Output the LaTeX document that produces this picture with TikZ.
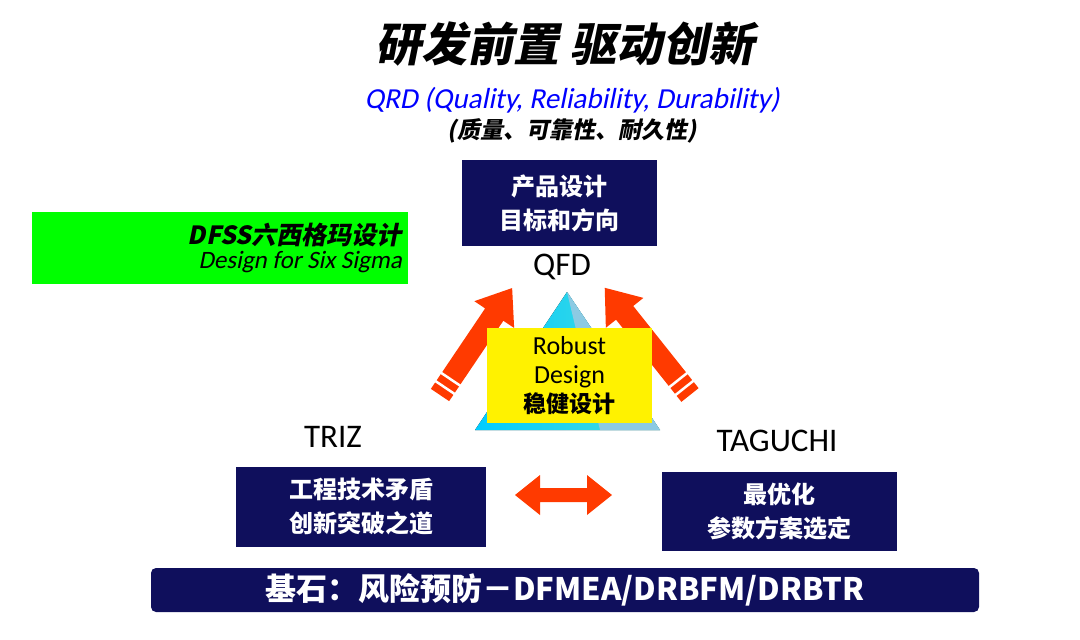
\documentclass[tikz,border=0pt]{standalone}
\usepackage{fontspec}
\setmainfont{Carlito}
\newfontfamily\cjk{Noto Sans CJK SC}
\newfontfamily\cjkit{Noto Sans CJK SC}[FakeSlant=0.2]
\newfontfamily\latit{Carlito}[FakeSlant=0.2]
\usetikzlibrary{positioning}
\definecolor{navy}{HTML}{0F0F5C}
\definecolor{arrowred}{HTML}{FF3A00}
\tikzset{
  darkbox/.style={fill=navy, text=white, align=center, font=\cjk\bfseries\fontsize{24}{34}\selectfont, inner sep=0pt},
  label/.style={font=\fontsize{33}{33}\selectfont},
}
\newcommand{\stripearrow}[3]{% tail, angle, length
  \begin{scope}[shift={#1}, rotate=#2]
    \fill[arrowred] (0,-11) -- (#3-32,-11) -- (#3-32,-24) -- (#3,0) -- (#3-32,24) -- (#3-32,11) -- (0,11) -- cycle;
    \draw[white, line width=2.5pt] (9,-12) -- (9,12) (19,-12) -- (19,12);
  \end{scope}}
\begin{document}
\begin{tikzpicture}[x=1pt, y=-1pt]
  \useasboundingbox (0,0) rectangle (1080,640);
  % titles
  \node (title) at (565,44) {\cjkit\bfseries\fontsize{46}{46}\selectfont 研发前置 驱动创新};
  \node[text=blue] (qrd) at (572,100) {\latit\fontsize{29}{29}\selectfont QRD (Quality, Reliability, Durability)};
  \node (qrdcn) at (572,131) {\cjkit\bfseries\fontsize{23}{23}\selectfont (质量、可靠性、耐久性)};
  % QFD
  \node[darkbox, minimum width=195pt, minimum height=86pt] (qfdbox) at (559.5,203) {产品设计\\目标和方向};
  \node[label] (qfd) at (562,267) {QFD};
  \node[fill=green, minimum width=376pt, minimum height=72pt, inner sep=0pt] (dfss) at (220,248) {};
  \node[anchor=east, align=right, inner sep=0pt] (dfsstxt) at (402,248) {{\cjkit\bfseries\fontsize{25}{25}\selectfont DFSS六西格玛设计}\\[4pt]{\latit\fontsize{25}{25}\selectfont Design for Six Sigma}};
  % pyramid and arrows
  \fill[left color=cyan!80!blue, right color=cyan!60!teal!70] (567,292) coordinate (apex) -- (660,430) -- (475,430) -- cycle;
  \fill[cyan!60!teal!50] (567,292) -- (660,430) -- (600,430) -- cycle;
  \stripearrow{(440,395)}{56}{129}
  \stripearrow{(690,395)}{128.5}{137}
  \node[fill=yellow, minimum width=165pt, minimum height=95pt, align=center, inner sep=0pt, font=\fontsize{26}{29}\selectfont] (robust) at (569.5,375.5) {Robust\\Design\\{\cjk\bfseries\fontsize{23}{26}\selectfont 稳健设计}};
  % TRIZ and TAGUCHI
  \node[label] (triz) at (333,437) {TRIZ};
  \node[darkbox, minimum width=250pt, minimum height=80pt] (trizbox) at (361,507) {工程技术矛盾\\创新突破之道};
  \node[label] (taguchi) at (777,441) {TAGUCHI};
  \node[darkbox, minimum width=235pt, minimum height=79pt] (tagbox) at (779.5,511.5) {最优化\\参数方案选定};
  \coordinate (dl) at (515,495);
  \coordinate (dr) at (612,495);
  \fill[arrowred] (dl) -- ++(25,-20) -- ++(0,13) -- ++(47,0) -- ++(0,-13) -- (dr) -- ++(-25,20) -- ++(0,-13) -- ++(-47,0) -- ++(0,13) -- cycle;
  % base
  \node[fill=navy, rounded corners=5pt, minimum width=828pt, minimum height=44pt, text=white, font=\cjk\bfseries\fontsize{31}{31}\selectfont] (base) at (565,590) {基石：风险预防－DFMEA/DRBFM/DRBTR};
\end{tikzpicture}
\end{document}
